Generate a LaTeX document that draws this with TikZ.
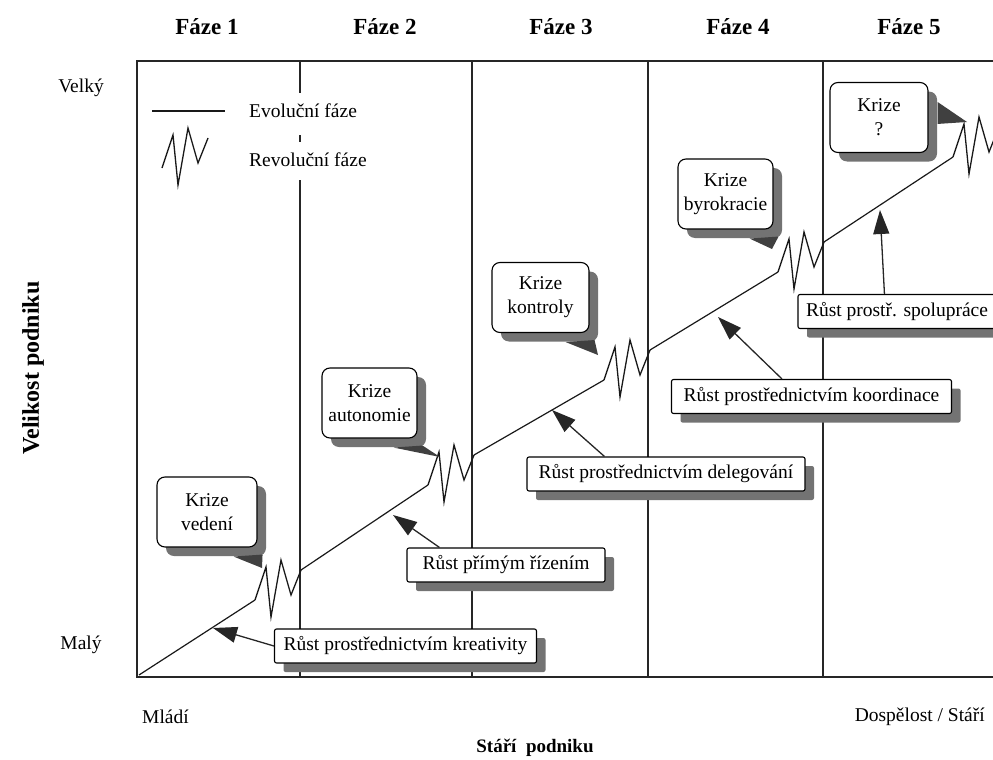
\documentclass[tikz,border=0pt]{standalone}
\usepackage{fontspec}
\setmainfont{Liberation Serif}
\usetikzlibrary{arrows.meta,shadows}
\begin{document}
\begin{tikzpicture}[x=1pt,y=-1pt,
  txt/.style={font=\fontsize{19.5}{24}\selectfont, inner sep=0pt},
  hdr/.style={font=\fontsize{23}{25}\selectfont\bfseries, inner sep=0pt},
  framel/.style={line width=1.3pt, black!85},
  phaseline/.style={line width=1.1pt, black!85},
  evo/.style={line width=1.2pt, black!90},
  zz/.style={line width=1.3pt, black!90, line join=miter},
  boxshadow/.style={drop shadow={shadow xshift=9pt, shadow yshift=-9pt, fill=black!55, opacity=1}},
  rust/.style={txt, draw, fill=white, line width=1.1pt, rounded corners=2pt,
     minimum height=34pt, boxshadow},
  krize/.style={txt, draw, fill=white, line width=1.1pt, rounded corners=8pt,
     align=center, minimum height=70pt, boxshadow},
  growarrow/.style={-{Triangle[length=24pt,width=16pt]}, line width=1.3pt, black!85},
  tailf/.style={fill=black!75}
]
\useasboundingbox (0,0) rectangle (993,760);
\clip (0,0) rectangle (993,760);

% header labels
\node[hdr] (f1) at (207,27) {Fáze 1};
\node[hdr] (f2) at (385,27) {Fáze 2};
\node[hdr] (f3) at (561,27) {Fáze 3};
\node[hdr] (f4) at (738,27) {Fáze 4};
\node[hdr] (f5) at (909,27) {Fáze 5};

% frame
\draw[framel] (1000,61) -- (137,61) -- (137,677) -- (1000,677);

% phase lines
\draw[phaseline] (300,61) -- (300,93);
\draw[phaseline] (300,135) -- (300,142);
\draw[phaseline] (300,180) -- (300,677);
\draw[phaseline] (472,61) -- (472,677);
\draw[phaseline] (648,61) -- (648,677);
\draw[phaseline] (823,61) -- (823,677);

% axis labels
\node[txt] (velky) at (81,88) {Velký};
\node[txt] (maly) at (81,645) {Malý};
\node[font=\fontsize{24}{26}\selectfont\bfseries, rotate=90] (vel) at (33,368) {Velikost podniku};
\node[txt, anchor=west] (mladi) at (142,717) {Mládí};
\node[txt, anchor=east] (dosp) at (985,717) {Dospělost / Stáří};
\node[font=\fontsize{19}{24}\selectfont\bfseries] (stari) at (535,748) {Stáří\ \ podniku};

% legend
\coordinate (la) at (152,111);
\coordinate (lb) at (225,111);
\draw[evo] (la) -- (lb);
\node[txt, anchor=west] (evol) at (249,111) {Evoluční fáze};
\node[txt, anchor=west] (revol) at (249,160) {Revoluční fáze};
\coordinate (lz) at (162,168);
\draw[zz] (lz) -- ++(11,-33) -- ++(5,50) -- ++(10,-57) -- ++(10,35) -- ++(10,-25);

% main curve
\coordinate (O) at (139,675);
\coordinate (z1s) at (255,600); \coordinate (z1e) at (301,570);
\coordinate (z2s) at (428,485); \coordinate (z2e) at (474,455);
\coordinate (z3s) at (604,380); \coordinate (z3e) at (650,350);
\coordinate (z4s) at (778,272); \coordinate (z4e) at (824,242);
\coordinate (z5s) at (953,157);
\draw[evo] (O) -- (z1s);
\draw[evo] (z1e) -- (z2s);
\draw[evo] (z2e) -- (z3s);
\draw[evo] (z3e) -- (z4s);
\draw[evo] (z4e) -- (z5s);
\foreach \s in {z1s,z2s,z3s,z4s,z5s}{
  \draw[zz] (\s) -- ++(11,-33) -- ++(5,50) -- ++(10,-57) -- ++(10,35) -- ++(10,-25);
}

% growth boxes
\node[rust, minimum width=262pt] (kre) at (405.5,646) {Růst prostřednictvím kreativity};
\node[rust, minimum width=198pt] (pri) at (506,565) {Růst přímým řízením};
\node[rust, minimum width=278pt] (del) at (666,474) {Růst prostřednictvím delegování};
\node[rust, minimum width=280pt] (koo) at (811.5,396.5) {Růst prostřednictvím koordinace};
\node[rust, minimum width=198pt] (spo) at (897,311.5) {Růst prostř. spolupráce};

\coordinate (t1) at (213,628);
\coordinate (t2) at (393,515);
\coordinate (t3) at (552,410);
\coordinate (t4) at (718,317);
\coordinate (t5) at (880,210);
\draw[growarrow] (kre.west) -- (t1);
\draw[growarrow] ([xshift=33pt]pri.north west) -- (t2);
\draw[growarrow] ([xshift=78pt]del.north west) -- (t3);
\draw[growarrow] ([xshift=111pt]koo.north west) -- (t4);
\draw[growarrow] ([xshift=87pt]spo.north west) -- (t5);

% crisis boxes
\node[krize, minimum width=100pt] (k1) at (207,512) {Krize\\vedení};
\node[krize, minimum width=95pt] (k2) at (369.5,403) {Krize\\autonomie};
\node[krize, minimum width=97pt] (k3) at (540.5,297.5) {Krize\\kontroly};
\node[krize, minimum width=95pt] (k4) at (725.5,194) {Krize\\byrokracie};
\node[krize, minimum width=98pt] (k5) at (879,117.5) {Krize\\?};

\coordinate (c1) at (262,568);
\coordinate (c2) at (440,457);
\coordinate (c3) at (598,355);
\coordinate (c4) at (772,249);
\coordinate (c5) at (967,122);
\foreach \k/\c in {k1/c1,k2/c2,k3/c3,k4/c4}{
  \fill[tailf] ([shift={(-24,9)}]\k.south east) -- ([shift={(5,7)}]\k.south east) -- (\c) -- cycle;
}
\fill[tailf] ([shift={(9,20)}]k5.north east) -- ([shift={(9,42)}]k5.north east) -- (c5) -- cycle;
\end{tikzpicture}
\end{document}
